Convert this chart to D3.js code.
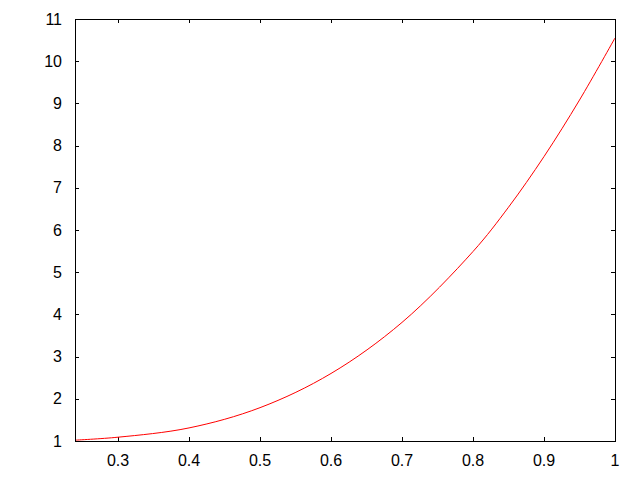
<!DOCTYPE html>
<html>
<head>
<meta charset="utf-8">
<script src="https://cdn.jsdelivr.net/npm/d3@7"></script>
<style>
  body { margin: 0; background: #fff; }
  text { font-family: "Liberation Sans", Arial, sans-serif; font-size: 16px; fill: #000; }
</style>
</head>
<body>
<div id="chart"></div>
<script>
// valores
const xValues = [0.2394, 0.3, 0.4, 0.5, 0.6, 0.7, 0.8, 0.85, 0.9, 0.95, 1.0];
const yValues = [1.02, 1.09, 1.31, 1.79, 2.60, 3.81, 5.49, 6.54, 7.74, 9.08, 10.55];
const xTicks = [0.3, 0.4, 0.5, 0.6, 0.7, 0.8, 0.9, 1];
const yTicks = [1, 2, 3, 4, 5, 6, 7, 8, 9, 10, 11];

const width = 640, height = 480;
const margin = { top: 19, right: 25, bottom: 39, left: 75 };
const innerW = width - margin.left - margin.right;
const innerH = height - margin.top - margin.bottom;

const svg = d3.select('#chart').append('svg')
    .attr('width', width)
    .attr('height', height);

const g = svg.append('g')
    .attr('transform', `translate(${margin.left},${margin.top})`);

const x = d3.scaleLinear().domain([0.2394, 1]).range([0, innerW]);
const y = d3.scaleLinear().domain([1, 11]).range([innerH, 0]);

// ticks hacia adentro en los cuatro lados
const tickLen = 4;
g.selectAll('.xt').data(xTicks).enter().append('line')
    .attr('x1', d => Math.round(x(d)) + 0.5).attr('x2', d => Math.round(x(d)) + 0.5)
    .attr('y1', innerH).attr('y2', innerH - tickLen)
    .attr('stroke', '#000');
g.selectAll('.xt2').data(xTicks).enter().append('line')
    .attr('x1', d => Math.round(x(d)) + 0.5).attr('x2', d => Math.round(x(d)) + 0.5)
    .attr('y1', 0).attr('y2', tickLen)
    .attr('stroke', '#000');
g.selectAll('.yt').data(yTicks).enter().append('line')
    .attr('x1', 0).attr('x2', tickLen)
    .attr('y1', d => Math.round(y(d)) + 0.5).attr('y2', d => Math.round(y(d)) + 0.5)
    .attr('stroke', '#000');
g.selectAll('.yt2').data(yTicks).enter().append('line')
    .attr('x1', innerW).attr('x2', innerW - tickLen)
    .attr('y1', d => Math.round(y(d)) + 0.5).attr('y2', d => Math.round(y(d)) + 0.5)
    .attr('stroke', '#000');

// etiquetas
g.selectAll('.xl').data(xTicks).enter().append('text')
    .attr('x', d => x(d))
    .attr('y', innerH + 25)
    .attr('text-anchor', 'middle')
    .text(d => d);
g.selectAll('.yl').data(yTicks).enter().append('text')
    .attr('x', -13)
    .attr('y', d => y(d))
    .attr('dy', '0.35em')
    .attr('text-anchor', 'end')
    .text(d => d);

// curva
const line = d3.line()
    .x(d => x(d[0]))
    .y(d => y(d[1]))
    .curve(d3.curveCatmullRom.alpha(0.5));

g.append('path')
    .datum(xValues.map((v, i) => [v, yValues[i]]))
    .attr('d', line)
    .attr('fill', 'none')
    .attr('stroke', '#ff0000')
    .attr('stroke-width', 1);

// marco
g.append('rect')
    .attr('x', 0.5).attr('y', 0.5)
    .attr('width', innerW).attr('height', innerH)
    .attr('fill', 'none')
    .attr('stroke', '#000');
</script>
</body>
</html>
